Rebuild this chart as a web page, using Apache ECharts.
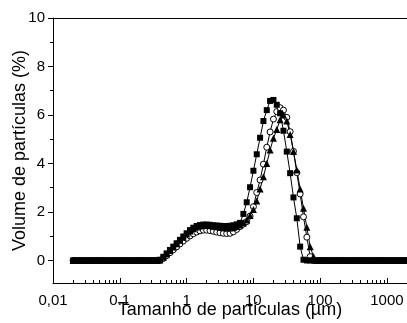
<!DOCTYPE html>
<html>
<head>
<meta charset="utf-8">
<script src="https://cdn.jsdelivr.net/npm/echarts@6/dist/echarts.min.js"></script>
<style>
  html, body { margin: 0; padding: 0; background: #fff; }
  #chart { width: 407px; height: 323px; }
</style>
</head>
<body>
<div id="chart"></div>
<script>
// particle size bins (µm)
const sizes = [
  0.020, 0.022, 0.025, 0.028, 0.032, 0.036, 0.040, 0.045, 0.050, 0.056,
  0.063, 0.071, 0.080, 0.089, 0.100, 0.112, 0.126, 0.142, 0.159, 0.178,
  0.200, 0.224, 0.252, 0.283, 0.317, 0.356, 0.399, 0.448, 0.502, 0.564,
  0.632, 0.710, 0.796, 0.893, 1.002, 1.125, 1.262, 1.416, 1.589, 1.783,
  2.000, 2.244, 2.518, 2.825, 3.170, 3.557, 3.991, 4.477, 5.024, 5.637,
  6.325, 7.096, 7.962, 8.934, 10.024, 11.247, 12.619, 14.159, 15.887, 17.825,
  20.000, 22.440, 25.179, 28.251, 31.698, 35.566, 39.905, 44.774, 50.238, 56.368,
  63.246, 70.963, 79.621, 89.337, 100.237, 112.468, 126.191, 141.589, 158.866, 178.250,
  200.000, 224.404, 251.785, 282.508, 316.979, 355.656, 399.052, 447.744, 502.377, 563.677,
  632.456, 709.627, 796.214, 893.367, 1002.374, 1124.683, 1261.915, 1415.892, 1588.656, 1782.502,
  2000.000
];

const squares = [
  0, 0, 0, 0, 0, 0, 0, 0, 0, 0,
  0, 0, 0, 0, 0, 0, 0, 0, 0, 0,
  0, 0, 0, 0, 0, 0, 0.03, 0.15, 0.29, 0.43,
  0.57, 0.71, 0.85, 0.99, 1.12, 1.25, 1.35, 1.42, 1.46, 1.48,
  1.48, 1.47, 1.45, 1.44, 1.43, 1.42, 1.42, 1.43, 1.45, 1.49,
  1.55, 1.92, 2.4, 3.02, 3.7, 4.38, 5.06, 5.75, 6.2, 6.58,
  6.62, 6.42, 6.07, 5.35, 4.49, 3.6, 2.6, 1.74, 0.57, 0.03,
  0, 0, 0, 0, 0, 0, 0, 0, 0, 0,
  0, 0, 0, 0, 0, 0, 0, 0, 0, 0,
  0, 0, 0, 0, 0, 0, 0, 0, 0, 0,
  0
];

const circles = [
  0, 0, 0, 0, 0, 0, 0, 0, 0, 0,
  0, 0, 0, 0, 0, 0, 0, 0, 0, 0,
  0, 0, 0, 0, 0, 0, 0, 0.08, 0.2, 0.32,
  0.44, 0.56, 0.68, 0.8, 0.91, 1.01, 1.1, 1.17, 1.22, 1.25,
  1.25, 1.23, 1.2, 1.17, 1.14, 1.12, 1.11, 1.12, 1.18, 1.28,
  1.4, 1.5, 1.6, 1.83, 2.22, 2.8, 3.32, 3.97, 4.67, 5.3,
  5.83, 6.14, 6.3, 6.2, 5.9, 5.31, 4.5, 3.62, 2.74, 1.8,
  0.96, 0.16, 0, 0, 0, 0, 0, 0, 0, 0,
  0, 0, 0, 0, 0, 0, 0, 0, 0, 0,
  0, 0, 0, 0, 0, 0, 0, 0, 0, 0,
  0
];

const triangles = [
  0, 0, 0, 0, 0, 0, 0, 0, 0, 0,
  0, 0, 0, 0, 0, 0, 0, 0, 0, 0,
  0, 0, 0, 0, 0, 0, 0.02, 0.13, 0.27, 0.41,
  0.55, 0.69, 0.83, 0.96, 1.09, 1.21, 1.31, 1.38, 1.42, 1.44,
  1.44, 1.43, 1.41, 1.39, 1.37, 1.35, 1.34, 1.34, 1.36, 1.4,
  1.46, 1.55, 1.67, 1.85, 2.1, 2.45, 2.95, 3.45, 4.0, 4.56,
  5.04, 5.4, 5.8, 6.0, 5.75, 5.2, 4.49, 3.73, 2.95, 2.15,
  1.37, 0.57, 0.16, 0, 0, 0, 0, 0, 0, 0,
  0, 0, 0, 0, 0, 0, 0, 0, 0, 0,
  0, 0, 0, 0, 0, 0, 0, 0, 0, 0,
  0
];

const xMajor = [0.01, 0.1, 1, 10, 100, 1000];
const xMajorLabels = ['0,01', '0.1', '1', '10', '100', '1000'];
const xMinorSteps = [2, 3, 4, 5, 6, 7, 8, 9];
const yMajor = [0, 2, 4, 6, 8, 10];
const yMinor = [-1, 1, 3, 5, 7, 9];

// the x axis is a value axis over log10(size)
const lg = Math.log10;
const xMin = 0.01;
const xMax = 2000;
const xMajorPos = xMajor.map(lg);
const xMinorPos = [];
xMajor.forEach((d) => xMinorSteps.forEach((k) => xMinorPos.push(lg(d * k))));

const font = 'Liberation Sans, Arial, sans-serif';
const chart = echarts.init(document.getElementById('chart'));

const xLabel = (v) => {
  const i = xMajorPos.findIndex((m) => Math.abs(v - m) < 1e-6);
  return i >= 0 ? xMajorLabels[i] : '';
};

const mk = (name, data, symbol, size, fill) => ({
  name,
  type: 'line',
  data: sizes.map((s, i) => [lg(s), data[i]]),
  symbol,
  symbolSize: size,
  showAllSymbol: true,
  itemStyle: { color: fill, borderColor: '#000', borderWidth: fill === '#fff' ? 1 : 0 },
  lineStyle: { color: '#000', width: 1 },
  emphasis: { disabled: true },
  xAxisIndex: 0,
  yAxisIndex: 0,
});

const xBase = { type: 'value', min: lg(xMin), max: lg(xMax), splitLine: { show: false } };
const yBase = { type: 'value', min: -0.93, max: 10, position: 'left', splitLine: { show: false } };

chart.setOption({
  animation: false,
  grid: { left: 53, right: 0, top: 18, bottom: 40, outerBoundsMode: 'none', containLabel: false },
  xAxis: [
    {
      ...xBase,
      position: 'bottom',
      name: 'Tamanho de partículas (µm)',
      nameLocation: 'middle',
      nameGap: 18,
      nameMoveOverlap: false,
      nameTextStyle: { fontFamily: font, fontSize: 18, color: '#000' },
      axisLine: { onZero: false, lineStyle: { color: '#000', width: 1 } },
      axisTick: { show: true, inside: true, length: 5, customValues: xMajorPos, lineStyle: { color: '#000' } },
      axisLabel: { customValues: xMajorPos, formatter: xLabel, fontFamily: font, fontSize: 15, color: '#000', margin: 10 },
    },
    {
      ...xBase,
      position: 'bottom',
      axisLine: { show: false, onZero: false },
      axisTick: { show: true, inside: true, length: 3, customValues: xMinorPos, lineStyle: { color: '#000' } },
      axisLabel: { show: false },
    },
    {
      ...xBase,
      position: 'top',
      axisLine: { onZero: false, lineStyle: { color: '#000', width: 1 } },
      axisTick: { show: false },
      axisLabel: { show: false },
    },
  ],
  yAxis: [
    {
      ...yBase,
      name: 'Volume de partículas (%)',
      nameLocation: 'middle',
      nameGap: 24,
      nameMoveOverlap: false,
      nameTextStyle: { fontFamily: font, fontSize: 18, color: '#000' },
      axisLine: { show: true, onZero: false, lineStyle: { color: '#000', width: 1 } },
      axisTick: { show: true, inside: false, length: 5, customValues: yMajor, lineStyle: { color: '#000' } },
      axisLabel: { customValues: yMajor, fontFamily: font, fontSize: 15, color: '#000', margin: 8 },
    },
    {
      ...yBase,
      axisLine: { show: false, onZero: false },
      axisTick: { show: true, inside: false, length: 3, customValues: yMinor, lineStyle: { color: '#000' } },
      axisLabel: { show: false },
    },
  ],
  series: [
    mk('circles', circles, 'circle', 6, '#fff'),
    mk('squares', squares, 'rect', 6, '#000'),
    mk('triangles', triangles, 'triangle', 7, '#000'),
  ],
});
</script>
</body>
</html>
